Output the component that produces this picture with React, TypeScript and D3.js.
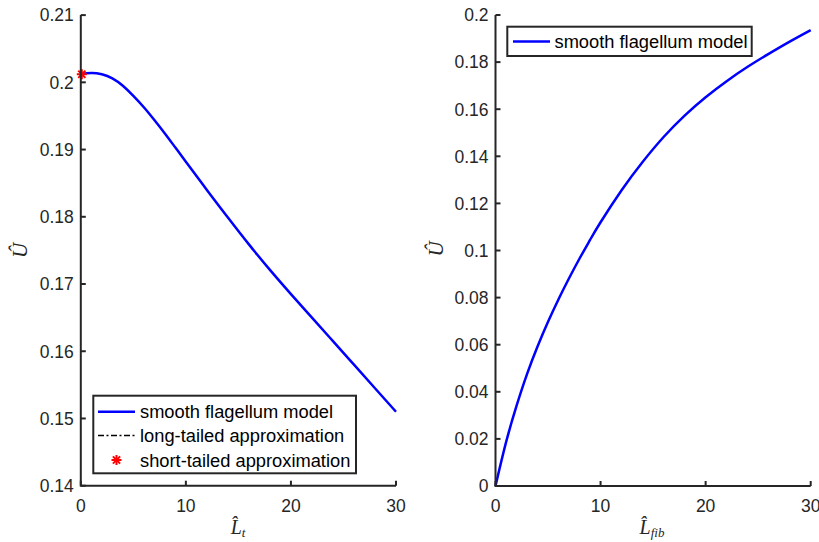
import React from "react";
import * as d3 from "d3";

// Left panel: U-hat vs L-hat_t
const leftX = [0, 1, 2, 3, 4, 5, 6, 7, 8, 9, 10, 12, 14, 16, 18, 20, 22, 24, 26, 28, 30];
const leftU = [0.2012, 0.2014, 0.2012, 0.2006, 0.1995, 0.198, 0.1963, 0.1944, 0.1924, 0.1903, 0.1882, 0.184, 0.1799, 0.1759, 0.1721, 0.1685, 0.165, 0.1615, 0.158, 0.1545, 0.151];
const shortTailX = [0];
const shortTailU = [0.2012];

// Right panel: U-hat vs L-hat_fib
const rightX = [0, 1, 2, 3, 4, 5, 6, 7, 8, 9, 10, 12, 14, 16, 18, 20, 22, 24, 26, 28, 30];
const rightU = [0, 0.0185, 0.034, 0.0475, 0.0592, 0.0697, 0.0793, 0.0882, 0.0966, 0.1045, 0.112, 0.1256, 0.1376, 0.1482, 0.1573, 0.1651, 0.1719, 0.178, 0.1835, 0.1887, 0.1936];

const xTicks = [0, 10, 20, 30];
const leftYTicks = [0.14, 0.15, 0.16, 0.17, 0.18, 0.19, 0.2, 0.21];
const rightYTicks = [0, 0.02, 0.04, 0.06, 0.08, 0.1, 0.12, 0.14, 0.16, 0.18, 0.2];

const legendLeft = ["smooth flagellum model", "long-tailed approximation", "short-tailed approximation"];
const legendRight = ["smooth flagellum model"];

const AXIS = "#262626";
const FONT = "'Liberation Sans', Arial, sans-serif";
const SERIF = "'Liberation Serif', 'DejaVu Serif', serif";
const TICK_FS = 17.5;
const LEG_FS = 18.3;

function Star({ x, y, r = 5 }: { x: number; y: number; r?: number }) {
  const d = r * 0.72;
  return (
    <g stroke="#ff0000" strokeWidth={2}>
      <line x1={x - r} y1={y} x2={x + r} y2={y} />
      <line x1={x} y1={y - r} x2={x} y2={y + r} />
      <line x1={x - d} y1={y - d} x2={x + d} y2={y + d} />
      <line x1={x - d} y1={y + d} x2={x + d} y2={y - d} />
    </g>
  );
}

function Axes({ xs, ys, yTicks, fmt }: any) {
  const [x0, x1] = xs.range();
  const [y0, y1] = ys.range();
  return (
    <g>
      {xTicks.map((t) => (
        <g key={"x" + t}>
          <line x1={xs(t)} x2={xs(t)} y1={y0} y2={y0 - 5} stroke={AXIS} strokeWidth={2} />
          <text x={xs(t)} y={y0 + 26} textAnchor="middle" fontFamily={FONT} fontSize={TICK_FS} fill={AXIS}>
            {t}
          </text>
        </g>
      ))}
      {yTicks.map((t: number) => (
        <g key={"y" + t}>
          <line x1={x0} x2={x0 + 5} y1={ys(t)} y2={ys(t)} stroke={AXIS} strokeWidth={2} />
          <text x={x0 - 7} y={ys(t)} dy="0.36em" textAnchor="end" fontFamily={FONT} fontSize={TICK_FS} fill={AXIS}>
            {fmt(t)}
          </text>
        </g>
      ))}
      <path d={`M${x0},${y1}V${y0}H${x1}`} fill="none" stroke={AXIS} strokeWidth={2} />
    </g>
  );
}

export default function App() {
  const fmt = (v: number) => String(+v.toFixed(2));

  const xL = d3.scaleLinear().domain([0, 30]).range([80.8, 396]);
  const yL = d3.scaleLinear().domain([0.14, 0.21]).range([485.7, 15.1]);
  const xR = d3.scaleLinear().domain([0, 30]).range([495.5, 810.7]);
  const yR = d3.scaleLinear().domain([0, 0.2]).range([486, 15]);

  const lineL = d3
    .line<number>()
    .x((_, i) => xL(leftX[i]))
    .y((d) => yL(d))
    .curve(d3.curveNatural);
  const lineR = d3
    .line<number>()
    .x((_, i) => xR(rightX[i]))
    .y((d) => yR(d))
    .curve(d3.curveNatural);

  return (
    <svg width={819} height={542} style={{ position: "absolute", left: 0, top: 0, background: "#fff" }}>
      <rect width={819} height={542} fill="#fff" />
      {/* Left panel */}
      <path d={lineL(leftU) || ""} fill="none" stroke="#0000ff" strokeWidth={2.5} />
      {shortTailX.map((v, i) => (
        <Star key={i} x={xL(v) + 1} y={yL(shortTailU[i])} />
      ))}
      <Axes xs={xL} ys={yL} yTicks={leftYTicks} fmt={fmt} />

      {/* Left legend */}
      <g>
        <rect x={93.3} y={395.7} width={262.7} height={77.6} fill="#fff" stroke={AXIS} strokeWidth={2} />
        <line x1={98} x2={135} y1={411.7} y2={411.7} stroke="#0000ff" strokeWidth={2.5} />
        <line x1={98} x2={135} y1={435.5} y2={435.5} stroke="#000" strokeWidth={1.6} strokeDasharray="6,2.5,2,2.5" />
        <Star x={116.5} y={460} />
        {legendLeft.map((s, i) => (
          <text key={s} x={140} y={[411.7, 435.5, 460][i]} dy="0.36em" fontFamily={FONT} fontSize={LEG_FS} fill="#000">
            {s}
          </text>
        ))}
      </g>

      {/* Left labels */}
      <text x={238} y={534} textAnchor="middle" fontFamily={SERIF} fontStyle="italic" fontSize={20} fill={AXIS}>
        {"L\u0302"}
        <tspan fontSize={13} dy={3}>t</tspan>
      </text>
      <text transform="translate(27,250.5) rotate(-90)" textAnchor="middle" fontFamily={SERIF} fontStyle="italic" fontSize={21} fill={AXIS}>
        {"\u00DB"}
      </text>

      {/* Right panel */}
      <path d={lineR(rightU) || ""} fill="none" stroke="#0000ff" strokeWidth={2.5} />
      <Axes xs={xR} ys={yR} yTicks={rightYTicks} fmt={fmt} />

      <g>
        <rect x={507.3} y={26.7} width={244.4} height={29.3} fill="#fff" stroke={AXIS} strokeWidth={2} />
        <line x1={513} x2={550} y1={41.5} y2={41.5} stroke="#0000ff" strokeWidth={2.5} />
        {legendRight.map((s) => (
          <text key={s} x={554.5} y={41.5} dy="0.36em" fontFamily={FONT} fontSize={LEG_FS} fill="#000">
            {s}
          </text>
        ))}
      </g>

      <text x={652} y={534} textAnchor="middle" fontFamily={SERIF} fontStyle="italic" fontSize={20} fill={AXIS}>
        {"L\u0302"}
        <tspan fontSize={13} dy={3}>fib</tspan>
      </text>
      <text transform="translate(443,249) rotate(-90)" textAnchor="middle" fontFamily={SERIF} fontStyle="italic" fontSize={21} fill={AXIS}>
        {"\u00DB"}
      </text>
    </svg>
  );
}
